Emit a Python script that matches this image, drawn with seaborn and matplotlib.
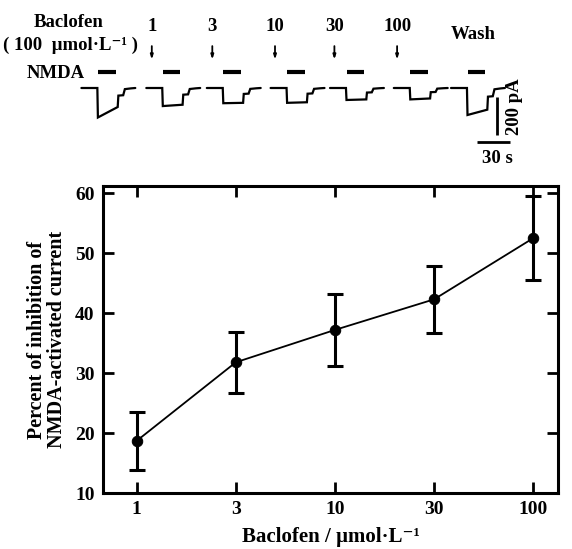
import numpy as np
import pandas as pd
import seaborn as sns
import matplotlib.pyplot as plt

sns.set_style("ticks")
plt.rcParams['font.family'] = ['Liberation Serif', 'DejaVu Serif']
plt.rcParams['font.weight'] = 'bold'
for k in ['axes.edgecolor', 'text.color', 'xtick.color', 'ytick.color', 'axes.labelcolor']:
    plt.rcParams[k] = 'black'

# dose-response data
doses = ["1", "3", "10", "30", "100"]
inhibition = [18.7, 31.8, 37.2, 42.3, 52.5]
sem = [4.8, 5.1, 6.0, 5.6, 7.0]

# current traces (top panel)
trace_labels = ["1", "3", "10", "30", "100"]
nmda_onset = [89, 148, 203, 261, 315, 373, 425]      # s
nmda_dur = 16                                         # s
baclofen_time = [138, 193, 250, 304, 361]             # s
peak_pA = [155, 95, 80, 78, 63, 60, 142]
end_pA = [100, 88, 78, 75, 60, 55, 114]
# template of one trace: time relative to NMDA onset
tmpl_t = [-15, -0.5, 0, 18, 18.6, 23, 24.5, 30, 34]

df = pd.DataFrame({"pos": np.arange(len(doses)), "inh": inhibition, "sem": sem})

fig = plt.figure(figsize=(5.72, 5.49), dpi=100)

# ---- top panel: traces
axt = fig.add_axes([0, 1 - 172 / 549, 1, 172 / 549])
axt.set_xlim(0, 520)
axt.set_ylim(-(172 - 88) * 5.26, 88 * 5.26)
axt.axis("off")

for i, t0 in enumerate(nmda_onset):
    p, e = peak_pA[i], end_pA[i]
    tt = [t0 + d for d in tmpl_t]
    yy = [0, 0, -p, -e, -0.4 * e, -0.38 * e, -0.06 * e, -0.02 * e, 0]
    axt.plot(tt, yy, color="black", lw=1.6, solid_joinstyle="miter")
    axt.plot([t0, t0 + nmda_dur], [84, 84], color="black", lw=3, solid_capstyle="butt")

fs = 13.5
for lab, tb in zip(trace_labels, baclofen_time):
    axt.text(tb, 322, lab, ha="center", va="center", fontsize=fs, fontweight="bold")
    axt.annotate("", xy=(tb, 135), xytext=(tb, 235),
                 arrowprops=dict(arrowstyle="-|>,head_length=0.25,head_width=0.08", lw=1.3, color="black"))

axt.text(62, 345, "Baclofen", ha="center", va="center", fontsize=fs, fontweight="bold")
axt.text(64, 225, "( 100  µmol·L⁻¹ )", ha="center", va="center", fontsize=fs, fontweight="bold")
axt.text(51, 78, "NMDA", ha="center", va="center", fontsize=fs, fontweight="bold")
axt.text(430, 280, "Wash", ha="center", va="center", fontsize=fs, fontweight="bold")

# scale bars
axt.plot([452, 452], [-47, -247], color="black", lw=2, solid_capstyle="butt")
axt.plot([434, 464], [-284, -284], color="black", lw=2, solid_capstyle="butt")
axt.text(468, -100, "200 pA", rotation=90, ha="center", va="center", fontsize=fs, fontweight="bold")
axt.text(452, -370, "30 s", ha="center", va="center", fontsize=fs, fontweight="bold")

# ---- bottom panel: inhibition vs dose
ax = fig.add_axes([103 / 572, 56 / 549, 455 / 572, 307 / 549])
ax.errorbar(df["pos"], df["inh"], yerr=df["sem"], fmt="none", ecolor="black",
            elinewidth=2.2, capsize=6, capthick=2.2)
sns.lineplot(data=df, x="pos", y="inh", ax=ax, color="black", lw=1.3,
             marker="o", markersize=7.5, markeredgecolor="black")

ax.set_xlim(-0.34, 4.25)
ax.set_ylim(10, 61.2)
ax.set_xticks(df["pos"])
ax.set_xticklabels(doses)
ax.set_yticks([10, 20, 30, 40, 50, 60])
ax.tick_params(direction="in", length=8, width=2, top=True, right=True,
               labelsize=14, pad=6)
for lab in ax.get_xticklabels() + ax.get_yticklabels():
    lab.set_fontweight("bold")
for s in ax.spines.values():
    s.set_linewidth(2.2)
ax.set_xlabel("Baclofen / µmol·L⁻¹", fontsize=15, fontweight="bold", labelpad=6)
ax.set_ylabel("Percent of inhibition of\nNMDA-activated current", fontsize=14.5,
              fontweight="bold", labelpad=6, linespacing=1.0)

fig.savefig("out.png", dpi=100)
